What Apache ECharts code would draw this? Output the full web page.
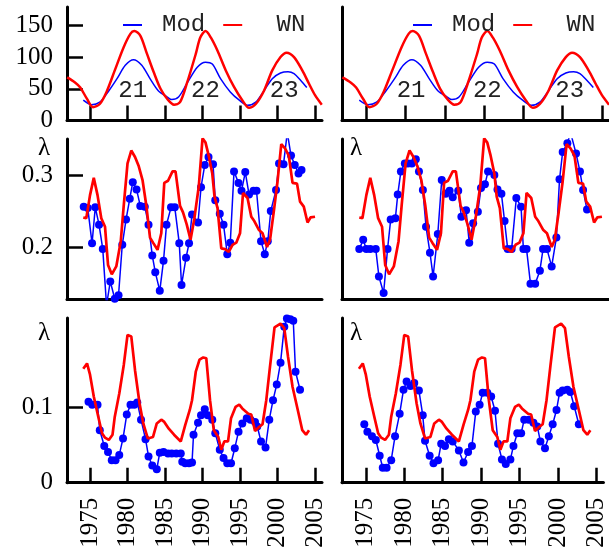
<!DOCTYPE html>
<html><head><meta charset="utf-8">
<script src="https://cdn.jsdelivr.net/npm/echarts@6/dist/echarts.min.js"></script>
<style>html,body{margin:0;padding:0;background:#fff;}#c{width:609px;height:553px;}</style>
</head><body><div id="c"></div>
<script>
// ---------------- data ----------------
const yearTicks = [1975, 1980, 1985, 1990, 1995, 2000, 2005];
const topTickVals = [50, 100, 150];
const topLabelVals = [0, 50, 100, 150];
const midTickVals = [0.2, 0.3];
const botTickVals = [0.1];
const botLabelVals = [0, 0.1];
const cycleNames = ['21', '22', '23'];

// top row: sunspot-like curves
const wnYears = [1971.95, 1973.0, 1973.7, 1974.6, 1975.4, 1976.3, 1977.2, 1978.3, 1979.5, 1980.4, 1980.9, 1981.7, 1982.6, 1983.5, 1984.4, 1985.3, 1986.2, 1987.0, 1987.9, 1989.1, 1989.7, 1990.4, 1991.1, 1992.0, 1993.1, 1994.2, 1995.3, 1996.2, 1997.1, 1998.2, 1999.3, 2000.4, 2001.2, 2002.2, 2003.3, 2004.2, 2005.0, 2005.9];
const wnValues = [68, 60, 52, 34, 21, 26, 45, 79, 116, 137, 141, 134, 105, 76, 50, 34, 25, 29, 58, 105, 131, 141, 131, 110, 79, 53, 32, 20, 26, 47, 79, 100, 107, 100, 79, 58, 40, 25];
const modYears = [1974.1, 1975.2, 1976.3, 1977.4, 1978.6, 1979.7, 1980.8, 1981.9, 1983.0, 1984.1, 1985.3, 1985.9, 1986.8, 1987.9, 1989.3, 1990.4, 1991.3, 1992.4, 1993.7, 1994.9, 1996.0, 1997.1, 1998.2, 1999.3, 2000.4, 2001.4, 2002.2, 2003.1, 2003.9];
const modValues = [32, 25, 29, 45, 66, 87, 96, 87, 66, 47, 37, 33, 37, 58, 84, 92, 89, 66, 45, 32, 24, 29, 47, 66, 75, 77, 74, 63, 52];

// middle row: lambda
const midRedYears = [1974.1, 1974.5, 1975.0, 1975.5, 1976.0, 1976.5, 1977.0, 1977.4, 1977.9, 1978.5, 1979.1, 1979.5, 1980.0, 1980.5, 1981.0, 1981.5, 1982.0, 1982.5, 1983.0, 1983.4, 1984.0, 1984.5, 1984.9, 1985.4, 1986.0, 1986.4, 1987.0, 1987.4, 1987.9, 1988.4, 1988.9, 1989.5, 1990.0, 1990.4, 1990.8, 1991.3, 1991.6, 1992.0, 1992.5, 1993.0, 1993.5, 1994.0, 1994.5, 1995.0, 1995.4, 1996.0, 1996.5, 1996.9, 1997.5, 1998.0, 1998.6, 1999.0, 1999.5, 2000.0, 2000.5, 2001.0, 2001.5, 2002.0, 2002.6, 2003.0, 2003.5, 2004.0, 2004.4, 2005.0];
const midRedValues = [0.242, 0.241, 0.273, 0.297, 0.273, 0.241, 0.229, 0.176, 0.163, 0.174, 0.209, 0.259, 0.317, 0.335, 0.326, 0.313, 0.294, 0.259, 0.214, 0.207, 0.197, 0.220, 0.290, 0.293, 0.306, 0.306, 0.258, 0.249, 0.232, 0.211, 0.240, 0.285, 0.352, 0.346, 0.329, 0.303, 0.271, 0.255, 0.199, 0.198, 0.194, 0.204, 0.207, 0.220, 0.276, 0.269, 0.243, 0.237, 0.225, 0.220, 0.201, 0.211, 0.250, 0.292, 0.344, 0.338, 0.328, 0.290, 0.289, 0.264, 0.257, 0.235, 0.242, 0.243];
const midLeftYears = [1974.16, 1974.7, 1975.27, 1975.7, 1976.2, 1976.7, 1977.2, 1977.7, 1978.3, 1978.8, 1979.3, 1979.8, 1980.3, 1980.7, 1981.2, 1981.7, 1982.3, 1982.8, 1983.3, 1983.7, 1984.3, 1984.8, 1985.2, 1985.8, 1986.3, 1986.9, 1987.2, 1987.8, 1988.2, 1988.6, 1989.4, 1989.8, 1990.3, 1990.8, 1991.4, 1991.7, 1992.3, 1992.8, 1993.3, 1993.7, 1994.2, 1994.8, 1995.2, 1995.7, 1996.2, 1996.8, 1997.2, 1997.8, 1998.3, 1998.7, 1999.1, 1999.8, 2000.2, 2000.8, 2001.3, 2001.8, 2002.3, 2002.8, 2003.2];
const midLeftValues = [0.257, 0.255, 0.206, 0.256, 0.232, 0.198, 0.120, 0.153, 0.129, 0.134, 0.204, 0.239, 0.268, 0.291, 0.281, 0.258, 0.257, 0.232, 0.189, 0.166, 0.140, 0.182, 0.232, 0.256, 0.256, 0.206, 0.148, 0.186, 0.206, 0.246, 0.235, 0.284, 0.315, 0.326, 0.316, 0.266, 0.247, 0.232, 0.191, 0.207, 0.306, 0.290, 0.279, 0.305, 0.274, 0.279, 0.279, 0.209, 0.191, 0.209, 0.251, 0.280, 0.317, 0.316, 0.360, 0.328, 0.315, 0.303, 0.308];
const midRightYears = [1974.1, 1974.6, 1975.0, 1975.5, 1976.2, 1976.6, 1977.2, 1977.7, 1978.1, 1978.7, 1979.0, 1979.4, 1979.9, 1980.3, 1980.8, 1981.3, 1981.7, 1982.2, 1982.6, 1983.1, 1983.5, 1984.1, 1984.6, 1985.1, 1985.6, 1986.0, 1986.7, 1987.1, 1987.7, 1988.1, 1988.6, 1989.2, 1989.6, 1990.1, 1990.5, 1991.3, 1991.7, 1992.2, 1992.6, 1993.0, 1993.5, 1994.1, 1994.7, 1995.0, 1995.4, 1995.9, 1996.5, 1997.1, 1997.5, 1998.0, 1998.6, 1999.2, 1999.6, 2000.0, 2000.6, 2001.0, 2001.7, 2002.2, 2002.6, 2003.1];
const midRightValues = [0.198, 0.211, 0.198, 0.198, 0.198, 0.160, 0.137, 0.198, 0.239, 0.241, 0.274, 0.306, 0.317, 0.317, 0.317, 0.323, 0.306, 0.280, 0.229, 0.193, 0.160, 0.219, 0.294, 0.275, 0.279, 0.270, 0.279, 0.243, 0.252, 0.207, 0.234, 0.250, 0.283, 0.288, 0.306, 0.301, 0.281, 0.275, 0.237, 0.198, 0.198, 0.269, 0.257, 0.198, 0.198, 0.150, 0.150, 0.168, 0.198, 0.198, 0.174, 0.214, 0.295, 0.333, 0.345, 0.360, 0.331, 0.306, 0.280, 0.253];

// bottom row: lambda
const botRedYears = [1974.1, 1974.6, 1975.0, 1975.5, 1976.1, 1976.6, 1977.0, 1977.5, 1978.0, 1978.3, 1978.9, 1979.5, 1980.0, 1980.5, 1981.0, 1981.6, 1982.1, 1982.7, 1983.4, 1983.9, 1984.5, 1984.9, 1985.5, 1986.2, 1987.1, 1987.7, 1988.3, 1988.6, 1989.1, 1989.6, 1990.1, 1990.5, 1991.0, 1991.5, 1992.1, 1992.5, 1992.9, 1993.4, 1993.8, 1994.4, 1994.9, 1995.3, 1996.1, 1996.5, 1997.0, 1997.5, 1998.0, 1998.5, 1999.0, 1999.6, 2000.4, 2000.9, 2001.4, 2002.0, 2002.7, 2003.3, 2003.8, 2004.2];
const botRedValues = [0.152, 0.159, 0.144, 0.115, 0.088, 0.066, 0.060, 0.057, 0.064, 0.088, 0.119, 0.157, 0.197, 0.195, 0.150, 0.106, 0.079, 0.059, 0.061, 0.079, 0.084, 0.081, 0.072, 0.064, 0.055, 0.077, 0.097, 0.110, 0.148, 0.164, 0.167, 0.166, 0.110, 0.070, 0.061, 0.044, 0.055, 0.055, 0.086, 0.101, 0.104, 0.099, 0.092, 0.091, 0.069, 0.074, 0.078, 0.110, 0.155, 0.207, 0.212, 0.206, 0.168, 0.128, 0.097, 0.070, 0.064, 0.070];
const botLeftYears = [1974.8, 1975.3, 1976.0, 1976.3, 1976.9, 1977.4, 1977.9, 1978.4, 1978.9, 1979.4, 1979.9, 1980.4, 1980.9, 1981.3, 1981.8, 1982.4, 1982.8, 1983.3, 1983.9, 1984.3, 1984.8, 1985.4, 1985.9, 1986.5, 1987.1, 1987.3, 1987.7, 1988.2, 1988.6, 1988.8, 1989.4, 1989.8, 1990.3, 1990.7, 1991.3, 1991.7, 1992.3, 1992.8, 1993.3, 1993.8, 1994.3, 1994.8, 1995.3, 1995.9, 1996.4, 1997.0, 1997.3, 1997.8, 1998.4, 1998.9, 1999.4, 1999.9, 2000.4, 2000.9, 2001.25, 2001.7, 2002.1, 2002.4, 2003.0];
const botLeftValues = [0.108, 0.104, 0.104, 0.070, 0.049, 0.041, 0.030, 0.030, 0.037, 0.059, 0.091, 0.104, 0.104, 0.107, 0.084, 0.058, 0.035, 0.023, 0.018, 0.040, 0.041, 0.039, 0.039, 0.039, 0.039, 0.028, 0.026, 0.026, 0.027, 0.064, 0.080, 0.090, 0.098, 0.090, 0.084, 0.066, 0.044, 0.033, 0.026, 0.026, 0.046, 0.068, 0.079, 0.086, 0.084, 0.081, 0.075, 0.055, 0.047, 0.084, 0.110, 0.131, 0.160, 0.208, 0.219, 0.218, 0.216, 0.148, 0.124];
const botRightYears = [1974.8, 1975.2, 1975.8, 1976.3, 1976.8, 1977.2, 1977.7, 1978.3, 1978.8, 1979.4, 1979.9, 1980.3, 1980.8, 1981.3, 1981.9, 1982.4, 1982.7, 1983.3, 1983.8, 1984.4, 1984.8, 1985.3, 1985.8, 1986.3, 1987.1, 1987.7, 1988.3, 1988.8, 1989.3, 1989.8, 1990.2, 1990.8, 1991.3, 1991.8, 1992.2, 1992.7, 1993.2, 1993.8, 1994.2, 1994.7, 1995.2, 1995.6, 1996.2, 1996.8, 1997.3, 1997.7, 1998.3, 1998.8, 1999.3, 1999.8, 2000.2, 2000.6, 2001.2, 2001.6, 2002.1, 2002.7];
const botRightValues = [0.078, 0.068, 0.062, 0.057, 0.036, 0.020, 0.020, 0.030, 0.062, 0.092, 0.124, 0.135, 0.129, 0.133, 0.123, 0.090, 0.056, 0.036, 0.026, 0.030, 0.052, 0.049, 0.058, 0.055, 0.043, 0.027, 0.041, 0.049, 0.095, 0.104, 0.120, 0.120, 0.115, 0.096, 0.052, 0.031, 0.025, 0.031, 0.049, 0.066, 0.066, 0.084, 0.084, 0.080, 0.075, 0.055, 0.046, 0.062, 0.078, 0.097, 0.120, 0.123, 0.124, 0.121, 0.102, 0.078];

// ---------------- chart ----------------
const pairs = (xs, ys) => xs.map((x, i) => [x, ys[i]]);
const BLUE = '#0000ff', RED = '#ff0000', INK = '#000';
const SERIF = "'Liberation Serif', 'Times New Roman', serif";
const MONO = "'Liberation Mono', 'Courier New', monospace";
const plain = v => String(v);

const cols = [{left: 67, width: 255, min: 1971.93, max: 2005.93}, {left: 342, width: 272, min: 1971.9, max: 2005.9}];
const rows = [{top: 7, height: 113.5}, {top: 139, height: 160.5}, {top: 318, height: 164.7}];

const grids = [], xAxes = [], yAxes = [];
rows.forEach((r, ri) => {
  cols.forEach((c, ci) => {
    const gi = grids.length;
    grids.push({left: c.left, top: r.top, width: c.width, height: r.height});
    xAxes.push({
      gridIndex: gi, type: 'value', min: c.min, max: c.max,
      axisLine: {show: true, onZero: false, lineStyle: {color: INK, width: 3}},
      axisTick: {show: ri !== 1, inside: true, length: 15, customValues: yearTicks, lineStyle: {color: INK, width: 2.5}},
      axisLabel: {show: ri === 2, rotate: 90, margin: 15, customValues: yearTicks, formatter: plain, fontFamily: SERIF, fontSize: 25, color: INK},
      splitLine: {show: false}
    });
    const y = {
      gridIndex: gi, type: 'value',
      axisLine: {show: true, onZero: false, lineStyle: {color: INK, width: 3}},
      splitLine: {show: false}
    };
    const left = ci === 0;
    if (ri === 0) {
      Object.assign(y, {min: 0, max: 179,
        axisTick: {show: left, inside: true, length: 16, customValues: topTickVals, lineStyle: {color: INK, width: 2.5}},
        axisLabel: {show: left, margin: 14, customValues: topLabelVals, formatter: plain, fontFamily: SERIF, fontSize: 25, color: INK}});
    } else if (ri === 1) {
      Object.assign(y, {min: 0.128, max: 0.351,
        axisTick: {show: left, inside: true, length: 16, customValues: midTickVals, lineStyle: {color: INK, width: 2.5}},
        axisLabel: {show: left, margin: 14, customValues: midTickVals, formatter: plain, fontFamily: SERIF, fontSize: 25, color: INK}});
    } else {
      Object.assign(y, {min: 0, max: 0.2196,
        axisTick: {show: left, inside: true, length: 16, customValues: botTickVals, lineStyle: {color: INK, width: 2.5}},
        axisLabel: {show: left, margin: 14, customValues: botLabelVals, formatter: plain, fontFamily: SERIF, fontSize: 25, color: INK}});
    }
    if (ri > 0) {
      Object.assign(y, {
        name: 'λ', nameLocation: 'end', nameGap: ri === 1 ? -9.5 : -15.5,
        nameTextStyle: left
          ? {fontFamily: SERIF, fontSize: 25, color: INK, align: 'right', verticalAlign: 'middle', padding: [0, 17, 0, 0]}
          : {fontFamily: SERIF, fontSize: 25, color: INK, align: 'left', verticalAlign: 'middle', padding: [0, 0, 0, 8]}
      });
    }
    yAxes.push(y);
  });
});

const series = [];
[0, 1].forEach(gi => {
  series.push({
    name: 'Mod', type: 'line', xAxisIndex: gi, yAxisIndex: gi, data: pairs(modYears, modValues),
    showSymbol: false, smooth: 0.3, lineStyle: {color: BLUE, width: 1.5}, itemStyle: {color: BLUE}, z: 2
  });
  series.push({
    name: 'WN', type: 'line', xAxisIndex: gi, yAxisIndex: gi, data: pairs(wnYears, wnValues),
    showSymbol: false, smooth: 0.3, lineStyle: {color: RED, width: 2.5}, itemStyle: {color: RED}, z: 3,
    markPoint: {
      symbol: 'circle', symbolSize: 0, silent: true,
      label: {show: true, position: 'inside', formatter: '{b}', fontFamily: MONO, fontSize: 24, color: '#222'},
      data: [
        {name: cycleNames[0], coord: [1980.7, 47]},
        {name: cycleNames[1], coord: [1990.4, 47]},
        {name: cycleNames[2], coord: [2000.9, 47]}
      ]
    }
  });
});
const lambdaPanels = [
  {gi: 2, blue: pairs(midLeftYears, midLeftValues), red: pairs(midRedYears, midRedValues)},
  {gi: 3, blue: pairs(midRightYears, midRightValues), red: pairs(midRedYears, midRedValues)},
  {gi: 4, blue: pairs(botLeftYears, botLeftValues), red: pairs(botRedYears, botRedValues)},
  {gi: 5, blue: pairs(botRightYears, botRightValues), red: pairs(botRedYears, botRedValues)}
];
lambdaPanels.forEach(p => {
  series.push({
    name: 'λ Mod ' + p.gi, type: 'line', xAxisIndex: p.gi, yAxisIndex: p.gi, data: p.blue,
    symbol: 'circle', symbolSize: 8, showSymbol: true,
    lineStyle: {color: BLUE, width: 1.5}, itemStyle: {color: BLUE}, z: 2
  });
  series.push({
    name: 'λ WN ' + p.gi, type: 'line', xAxisIndex: p.gi, yAxisIndex: p.gi, data: p.red,
    showSymbol: false, lineStyle: {color: RED, width: 2.7}, itemStyle: {color: RED}, z: 3
  });
});

const legendBase = {
  data: ['Mod', 'WN'], top: 8, icon: 'rect', itemWidth: 19, itemHeight: 2, itemGap: 18,
  selectedMode: false, formatter: n => n.padStart(3, ' '),
  textStyle: {fontFamily: MONO, fontSize: 24, color: '#222', padding: [0, 0, 0, 15]}
};

const chart = echarts.init(document.getElementById('c'), null, {renderer: 'canvas'});
chart.setOption({
  animation: false,
  backgroundColor: '#fff',
  grid: grids, xAxis: xAxes, yAxis: yAxes,
  legend: [Object.assign({left: 118}, legendBase), Object.assign({left: 408}, legendBase)],
  series: series
});
</script></body></html>
